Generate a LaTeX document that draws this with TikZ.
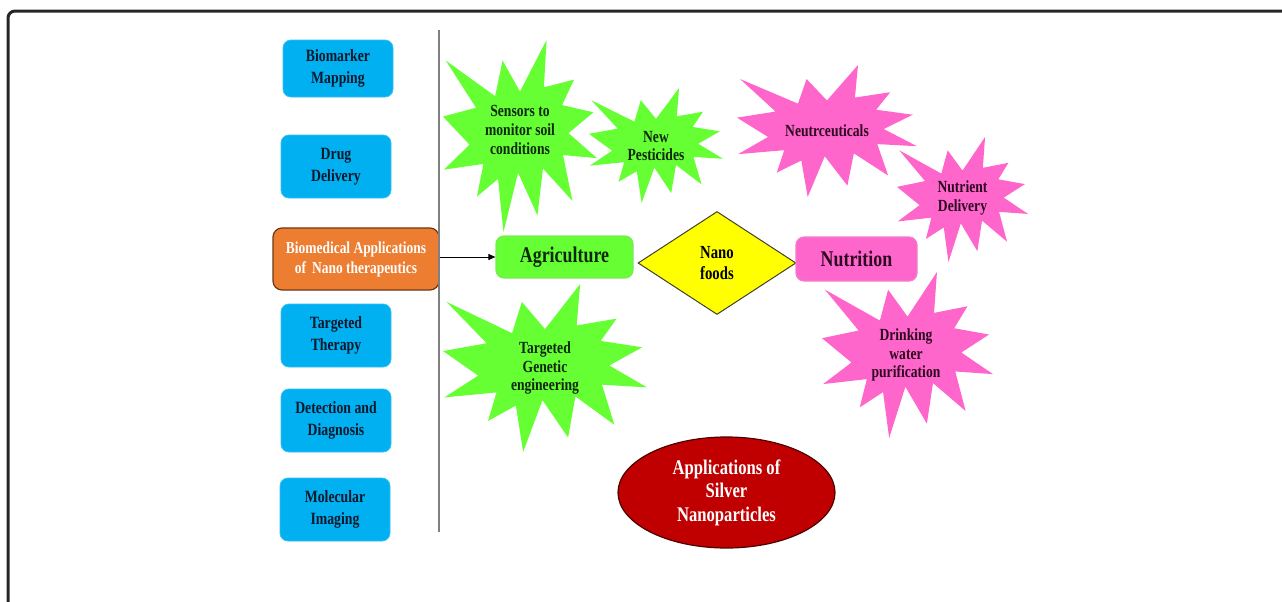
\documentclass[tikz,border=0pt]{standalone}
\usepackage{fontspec}
\setmainfont{Liberation Serif}[FakeStretch=0.8]
\usepackage{tikz}
\usetikzlibrary{arrows.meta, shapes.geometric}

\definecolor{medblue}{HTML}{00B0F0}
\definecolor{medink}{RGB}{12,24,44}
\definecolor{bioorange}{HTML}{ED7D31}
\definecolor{bioedge}{RGB}{110,55,20}
\definecolor{agrgreen}{HTML}{66FF33}
\definecolor{agredge}{HTML}{7CE85A}
\definecolor{agrink}{RGB}{14,40,14}
\definecolor{nutpink}{HTML}{FF66CC}
\definecolor{nutedge}{HTML}{F27CC9}
\definecolor{nutink}{RGB}{45,8,32}
\definecolor{foodyellow}{HTML}{FFFF00}
\definecolor{silverred}{HTML}{C00000}

% explosion shape: left, top, width, height (px), fill colour
\newcommand{\explosion}[5]{%
  \fill[#5, shift={(#1,#2)}, xscale=#3/100, yscale=#4/100]
    (50,26.85) -- (67.23,0) -- (65.53,24.65) -- (85.09,20.63) --
    (77.32,33.87) -- (97.67,37.67) -- (81.51,48.50) -- (100,61.53) --
    (77.95,59.92) -- (84.00,83.77) -- (64.91,66.93) -- (61.33,91.38) --
    (48.76,69.14) -- (39.28,100) -- (35.72,72.35) -- (22.05,81.56) --
    (26.24,64.52) -- (0.63,67.53) -- (17.23,54.51) -- (0,39.88) --
    (21.42,35.26) -- (1.71,10.63) -- (33.85,29.26) -- (38.67,10.63) -- cycle;}

\begin{document}
\begin{tikzpicture}[x=0.5pt, y=-0.5pt,
    medbox/.style={fill=medblue, draw=medblue!80!white, rounded corners=4pt,
                   minimum width=55pt, minimum height=31.5pt, align=center,
                   text=medink, font=\fontsize{8.6}{11}\selectfont\bfseries},
    hub/.style={rounded corners=4pt, align=center,
                font=\fontsize{11.2}{13}\selectfont\bfseries},
    startext/.style={align=center, inner sep=0pt,
                     font=\fontsize{8.5}{9.3}\selectfont\bfseries},
    arr/.style={-{Triangle[length=3.5pt, width=3pt]}, line width=0.5pt}
  ]
    \useasboundingbox (0,0) rectangle (1282,601);
    % frame
    \draw[line width=1.5pt, black!85, rounded corners=3.5pt]
      (8,603) -- (8,11) -- (1284,11);
    % Biomedical column
    \node[medbox, minimum height=28.5pt] (biomark) at (338,68.5) {Biomarker\\Mapping};
    \node[medbox] (drug) at (336,166.5) {Drug\\Delivery};
    \node[medbox] (therapy) at (336,335.5) {Targeted\\Therapy};
    \node[medbox] (detect) at (336,420.5) {Detection and\\Diagnosis};
    \node[medbox] (imaging) at (335,509.5) {Molecular\\Imaging};
    \node[fill=bioorange, draw=bioedge, line width=0.6pt, rounded corners=4.5pt,
          minimum width=83pt, minimum height=31pt, align=center, text=white,
          font=\fontsize{8.4}{10}\selectfont\bfseries] (biomed) at (356,259)
          {Biomedical Applications\\of\, Nano therapeutics};
    % divider
    \draw[gray, line width=1pt] (439,30) -- (439,532);
    % Agriculture side
    \explosion{443}{40}{154}{192}{agrgreen}
    \node[startext, text=agrink] (sensors) at (520,130) {Sensors to\\monitor soil\\conditions};
    \explosion{589}{88}{134}{115}{agrgreen}
    \node[startext, text=agrink] (pesticide) at (656,146) {New\\Pesticides};
    \explosion{443}{284}{204}{168}{agrgreen}
    \node[startext, text=agrink] (genetic) at (545,368) {Targeted\\Genetic\\engineering};
    \node[hub, fill=agrgreen, draw=agredge, line width=0.6pt,
          minimum width=68.5pt, minimum height=21pt, text=agrink] (agri) at (564.5,257) {Agriculture};
    % Nano foods
    \node[diamond, fill=foodyellow, draw=black!70!olive, line width=0.5pt,
          minimum width=79pt, minimum height=51.5pt, inner sep=0pt, align=center,
          font=\fontsize{9.2}{10.8}\selectfont\bfseries] (food) at (717,263) {Nano\\foods};
    % Nutrition side
    \explosion{737}{65}{180}{132}{nutpink}
    \node[startext, text=nutink] (neutra) at (827,131) {Neutrceuticals};
    \explosion{897}{137}{131}{125}{nutpink}
    \node[startext, text=nutink] (nutrient) at (962.5,198) {Nutrient\\Delivery};
    \explosion{822}{272}{171}{166}{nutpink}
    \node[startext, text=nutink] (drinking) at (906,355) {Drinking\\water\\purification};
    \node[hub, fill=nutpink, draw=nutedge, line width=0.6pt,
          minimum width=60.5pt, minimum height=22pt, text=nutink] (nutri) at (856.5,259) {Nutrition};
    % Silver nanoparticles
    \node[ellipse, fill=silverred, draw=black!60!silverred, line width=0.6pt,
          minimum width=108.5pt, minimum height=55.5pt, inner sep=0pt, align=center,
          text=white, font=\fontsize{10.4}{11.8}\selectfont\bfseries] (silver) at (726.5,492.5)
          {Applications of\\Silver\\Nanoparticles};
    % arrow
    \draw[arr] (biomed.east |- agri.west) -- (agri.west);
  \end{tikzpicture}
\end{document}
